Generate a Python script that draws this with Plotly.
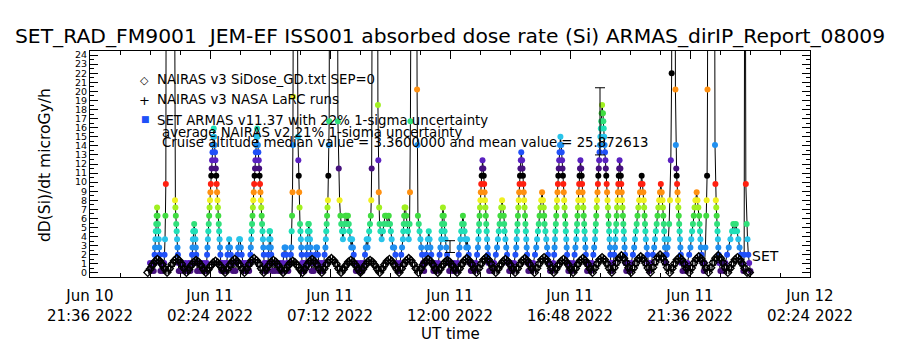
import pandas as pd
import plotly.graph_objects as go

# ---------------- data (minutes after 2022-06-11 00:00 UT) ----------------
DAY0 = pd.Timestamp("2022-06-11 00:00:00")

armas_minutes = [
    0, 3, 6, 9, 10, 11, 12, 13, 14, 15, 16, 17, 18, 19, 20, 21, 22, 23, 24, 25,
    28, 31, 34, 35, 36, 37, 38, 39, 44, 49, 54, 58, 60, 61, 62, 63, 64, 65, 66, 67, 68, 69, 70,
    73, 77, 81, 85, 89, 93, 97, 100, 101, 102, 103, 104, 105, 106, 107, 108, 109, 110, 111, 112, 113, 116, 120, 124, 127,
    130, 133, 136, 137, 138, 139, 140, 141, 142, 143, 144, 145, 146, 147, 148, 149, 150, 151, 152, 153, 154, 155, 156, 157, 158, 159, 160, 161, 162, 163, 164, 165, 166, 167, 168, 169, 170, 171, 172,
    175, 178, 181, 184, 186, 188, 190, 192, 194, 196, 199, 202, 205, 208, 210, 212, 214, 216, 218, 220, 223, 226, 229, 232,
    236, 238, 240, 241, 242, 243, 244, 245, 246, 247, 248, 249, 250, 251, 252, 253, 254, 255, 256, 257, 258, 259, 260, 261, 262, 263, 264, 265, 266, 267, 268, 269, 270, 271, 272, 273, 274, 275, 278,
    281, 283, 284, 285, 286, 287, 288, 289, 290, 291, 292, 294, 297, 300,
    304, 308, 312, 316, 319, 321, 323, 325, 327, 329, 332,
    335, 338, 339, 340, 341, 342, 343, 344, 345, 348, 352, 355, 356, 357, 358, 359, 360, 361, 362, 363, 364, 365, 366, 368,
    371, 374, 376, 377, 378, 379, 380, 381, 383, 384, 385, 386, 387, 388, 390,
    393, 395, 397, 399, 401, 403, 405, 408, 411, 414,
    417, 419, 421, 422, 423, 424, 425, 426, 427, 428, 429, 430, 431, 436, 444, 449, 451, 453, 455, 457, 459, 461, 463, 465, 467, 469, 471, 473, 475, 477, 479, 481, 483, 485, 487, 489, 491, 494,
    498, 502, 506, 510, 513, 516, 518, 520, 522, 524, 526, 528, 530, 531, 532, 533, 536, 541, 545, 547, 548, 549, 550, 551, 553, 556, 559, 562, 564, 567, 570, 573, 576, 578, 580, 583, 586, 589, 592, 596,
    600, 603, 605, 607, 608, 609, 610, 611, 613, 615, 617, 619, 621, 623, 624, 625, 627, 631, 636, 639, 641, 642, 643, 645, 647, 649, 651, 653, 655, 658,
    661, 663, 665, 667, 669, 671, 673, 675, 677, 680,
    684, 688, 692, 695, 697, 699, 700, 701, 702, 703, 705, 706, 707, 709, 711, 713, 715, 718,
    722, 726, 730, 734, 738, 741, 743, 745, 747, 749, 751, 753, 755, 757, 759, 761, 763, 765, 767, 770,
    774, 778, 782, 785, 787, 788, 789, 790, 791, 792, 793, 794, 795, 796, 797, 798, 800, 801, 802, 803, 804, 805, 806, 807, 808, 809, 810, 811, 812, 814,
    818, 822, 826, 830, 833, 835, 837, 839, 841, 843, 845, 847, 849, 850, 851, 853, 855, 857, 859, 862,
    866, 870, 874, 877, 879, 880, 881, 882, 883, 884, 885, 886, 887, 888, 889, 890, 891, 893, 894, 895, 896, 897, 898, 899, 900, 901, 902, 903, 904, 905, 906, 908,
    912, 916, 920, 924, 927, 929, 931, 933, 935, 937, 939, 941, 943, 945, 946, 947, 949, 951, 953, 955, 957, 960,
    964, 968, 970, 971, 972, 973, 974, 975, 976, 977, 978, 979, 980, 981, 982, 983, 984, 985, 987, 988, 989, 990, 991, 992, 993, 994, 995, 996, 997, 998, 999, 1000, 1001, 1002, 1004,
    1008, 1012, 1016, 1019, 1021, 1023, 1024, 1025, 1026, 1027, 1028, 1029, 1030, 1031, 1032, 1033, 1035, 1036, 1037, 1038, 1039, 1040, 1041, 1042, 1043, 1044, 1045, 1046, 1047, 1049,
    1053, 1057, 1061, 1064, 1066, 1068, 1069, 1070, 1071, 1072, 1073, 1074, 1075, 1076, 1077, 1078, 1079, 1080, 1081, 1082, 1083, 1084, 1085, 1087, 1088, 1089, 1090, 1091, 1092, 1093, 1094, 1095, 1096, 1097, 1098, 1099, 1100, 1101, 1102, 1103, 1104, 1105, 1106, 1108,
    1112, 1114, 1116, 1117, 1118, 1119, 1120, 1121, 1122, 1123, 1124, 1125, 1126, 1127, 1129, 1130, 1131, 1132, 1133, 1134, 1135, 1136, 1137, 1138, 1139, 1140, 1141, 1143,
    1147, 1151, 1155, 1159, 1162, 1164, 1166, 1168, 1170, 1172, 1174, 1176, 1178, 1180, 1182, 1184, 1185, 1186, 1187, 1188, 1189, 1190, 1192, 1194, 1196, 1199,
    1203, 1207, 1210, 1212, 1214, 1216, 1218, 1220, 1222, 1224, 1226, 1228, 1230, 1231, 1232, 1233, 1234, 1235, 1236, 1237, 1238, 1240, 1242, 1244, 1246, 1248, 1250, 1252, 1253, 1256, 1259, 1261, 1262, 1263, 1264, 1265, 1266, 1267, 1268, 1269, 1270, 1271, 1272, 1273, 1274, 1275, 1278,
    1282, 1286, 1290, 1294, 1297, 1299, 1301, 1303, 1305, 1307, 1309, 1312, 1314, 1316, 1318, 1319, 1320, 1321, 1322, 1324, 1326, 1329,
    1331, 1333, 1335, 1336, 1337, 1338, 1339, 1343, 1348, 1353, 1356, 1357, 1358, 1359, 1360, 1361, 1362, 1363, 1364, 1365, 1366, 1369,
    1373, 1377, 1381, 1385, 1389, 1393, 1397, 1400, 1403, 1406, 1409, 1412, 1415, 1418, 1421, 1424,
    1426, 1428, 1430, 1432, 1434, 1436, 1438, 1441,
]

armas_dose = [
    1.1, 0.2, 1.1, 0.2, 1.1, 2.0, 2.8, 3.7, 4.6, 5.4, 6.3, 7.2, 6.3, 5.4, 4.6, 3.7, 2.8, 2.0, 1.1, 0.2,
    1.1, 0.2, 1.1, 2.0, 3.7, 6.3, 9.8, 40.0, 120.0, 210.0, 130.0, 45.0, 8.0, 7.2, 6.3, 5.4, 4.6, 3.7, 2.8, 2.0, 1.1, 0.2, 1.1,
    0.2, 1.1, 0.2, 1.1, 0.2, 1.1, 0.2, 1.1, 2.0, 2.8, 3.7, 4.6, 4.6, 5.4, 4.6, 4.6, 3.7, 2.8, 2.0, 1.1, 0.2, 1.1, 0.2, 1.1, 0.2,
    1.1, 0.2, 1.1, 2.0, 2.8, 3.7, 4.6, 5.4, 6.3, 7.2, 8.0, 8.9, 9.8, 10.7, 11.5, 12.4, 13.3, 14.1, 15.0, 15.9, 15.0, 14.1, 13.3, 12.4, 11.5, 10.7, 9.8, 8.9, 8.0, 7.2, 6.3, 5.4, 4.6, 3.7, 2.8, 2.0, 1.1, 0.2, 1.1,
    0.2, 1.1, 0.2, 1.1, 2.0, 2.8, 3.7, 2.8, 2.0, 1.1, 0.2, 1.1, 0.2, 1.1, 2.0, 2.8, 3.7, 3.7, 2.8, 2.0, 1.1, 0.2, 1.1, 0.2,
    1.1, 0.2, 1.1, 2.0, 2.8, 3.7, 4.6, 5.4, 6.3, 7.2, 8.0, 8.9, 9.8, 10.7, 11.5, 12.4, 13.3, 14.1, 15.0, 15.9, 15.0, 14.1, 13.3, 12.4, 11.5, 10.7, 9.8, 8.9, 8.0, 7.2, 6.3, 5.4, 4.6, 3.7, 2.8, 2.0, 1.1, 0.2, 1.1,
    0.2, 1.1, 2.0, 2.8, 3.7, 4.6, 4.6, 3.7, 2.8, 2.0, 1.1, 0.2, 1.1, 0.2,
    1.1, 0.2, 1.1, 0.2, 1.1, 2.0, 2.8, 2.8, 2.0, 1.1, 0.2,
    1.1, 2.0, 2.8, 4.6, 6.3, 8.9, 14.1, 19.4, 35.0, 120.0, 60.0, 15.0, 12.4, 10.7, 8.9, 7.2, 5.4, 4.6, 3.7, 2.8, 2.0, 1.1, 0.2, 1.1,
    0.2, 1.1, 2.0, 2.8, 3.7, 4.6, 5.4, 5.4, 4.6, 3.7, 2.8, 2.0, 1.1, 0.2, 1.1,
    0.2, 1.1, 2.0, 2.8, 2.8, 2.0, 1.1, 0.2, 1.1, 0.2,
    1.1, 2.0, 2.8, 3.7, 4.6, 5.4, 6.3, 7.2, 8.0, 10.7, 14.1, 16.7, 40.0, 150.0, 200.0, 60.0, 16.7, 11.5, 8.0, 6.3, 5.4, 4.6, 3.7, 4.6, 5.4, 6.3, 6.3, 5.4, 6.3, 5.4, 4.6, 3.7, 2.8, 3.7, 2.8, 2.0, 1.1, 0.2,
    1.1, 0.2, 1.1, 0.2, 1.1, 2.0, 2.8, 3.7, 2.8, 3.7, 4.6, 5.4, 6.3, 8.0, 11.5, 30.0, 110.0, 190.0, 70.0, 18.5, 12.4, 8.9, 7.2, 5.4, 4.6, 3.7, 4.6, 5.4, 6.3, 6.3, 5.4, 6.3, 5.4, 4.6, 3.7, 2.8, 2.8, 2.0, 1.1, 0.2,
    1.1, 2.0, 2.8, 3.7, 4.6, 5.4, 6.3, 7.2, 7.2, 6.3, 5.4, 4.6, 3.7, 5.4, 8.9, 16.7, 40.0, 150.0, 210.0, 60.0, 20.2, 14.1, 6.3, 5.4, 4.6, 3.7, 2.8, 2.0, 1.1, 0.2,
    1.1, 2.0, 2.8, 3.7, 4.6, 3.7, 2.8, 2.0, 1.1, 0.2,
    1.1, 0.2, 1.1, 2.0, 2.8, 3.7, 4.6, 5.4, 6.3, 7.2, 6.3, 5.4, 4.6, 3.7, 2.8, 2.0, 1.1, 0.2,
    1.1, 0.2, 1.1, 0.2, 1.1, 2.0, 2.8, 3.7, 4.6, 5.4, 6.3, 5.4, 4.6, 3.7, 2.8, 3.7, 2.8, 2.0, 1.1, 0.2,
    1.1, 0.2, 1.1, 2.0, 2.8, 3.7, 4.6, 5.4, 6.3, 7.2, 8.0, 8.9, 9.8, 10.7, 11.5, 12.4, 11.5, 10.7, 9.8, 8.9, 8.0, 7.2, 6.3, 5.4, 4.6, 3.7, 2.8, 2.0, 1.1, 0.2,
    1.1, 0.2, 1.1, 2.0, 2.8, 3.7, 4.6, 5.4, 6.3, 7.2, 8.0, 7.2, 6.3, 5.4, 4.6, 3.7, 2.8, 2.0, 1.1, 0.2,
    1.1, 0.2, 1.1, 2.0, 2.8, 3.7, 4.6, 5.4, 6.3, 7.2, 8.0, 8.9, 9.8, 10.7, 11.5, 12.4, 13.3, 12.4, 11.5, 10.7, 9.8, 8.9, 8.0, 7.2, 6.3, 5.4, 4.6, 3.7, 2.8, 2.0, 1.1, 0.2,
    1.1, 0.2, 1.1, 2.0, 2.8, 3.7, 4.6, 5.4, 6.3, 7.2, 8.0, 8.9, 8.0, 7.2, 6.3, 5.4, 4.6, 3.7, 2.8, 2.0, 1.1, 0.2,
    0.2, 1.1, 2.0, 2.8, 3.7, 4.6, 5.4, 6.3, 7.2, 8.0, 8.9, 9.8, 10.7, 11.5, 12.4, 13.3, 14.1, 15.0, 14.1, 13.3, 12.4, 11.5, 10.7, 9.8, 8.9, 8.0, 7.2, 6.3, 5.4, 4.6, 3.7, 2.8, 2.0, 1.1, 0.2,
    1.1, 0.2, 1.1, 2.0, 2.8, 3.7, 4.6, 5.4, 6.3, 7.2, 8.0, 8.9, 9.8, 10.7, 11.5, 12.4, 11.5, 10.7, 9.8, 8.9, 8.0, 7.2, 6.3, 5.4, 4.6, 3.7, 2.8, 2.0, 1.1, 0.2,
    1.1, 0.2, 1.1, 2.0, 2.8, 3.7, 4.6, 5.4, 6.3, 7.2, 8.0, 8.9, 9.8, 10.7, 11.5, 12.4, 13.3, 14.1, 15.0, 15.9, 16.7, 17.6, 18.5, 17.6, 16.7, 15.9, 15.0, 14.1, 13.3, 12.4, 11.5, 10.7, 9.8, 8.9, 8.0, 7.2, 6.3, 5.4, 4.6, 3.7, 2.8, 2.0, 1.1, 0.2,
    1.1, 2.0, 2.8, 3.7, 4.6, 5.4, 6.3, 7.2, 8.0, 8.9, 9.8, 10.7, 11.5, 12.4, 11.5, 10.7, 9.8, 8.9, 8.0, 7.2, 6.3, 5.4, 4.6, 3.7, 2.8, 2.0, 1.1, 0.2,
    1.1, 0.2, 1.1, 2.0, 2.8, 3.7, 4.6, 5.4, 6.3, 7.2, 8.0, 8.9, 9.8, 10.7, 9.8, 8.9, 8.0, 7.2, 6.3, 5.4, 4.6, 3.7, 2.8, 2.0, 1.1, 0.2,
    1.1, 2.0, 2.8, 3.7, 4.6, 5.4, 6.3, 7.2, 8.0, 8.9, 9.8, 8.9, 8.0, 7.2, 6.3, 5.4, 4.6, 3.7, 2.8, 2.0, 1.1, 2.0, 2.8, 3.7, 5.4, 8.0, 12.4, 22.0, 40.0, 160.0, 70.0, 20.2, 14.1, 11.5, 10.7, 9.8, 8.9, 8.0, 7.2, 6.3, 5.4, 4.6, 3.7, 2.8, 2.0, 1.1, 0.2,
    1.1, 0.2, 1.1, 2.0, 2.8, 3.7, 4.6, 5.4, 6.3, 7.2, 8.0, 8.9, 8.0, 7.2, 6.3, 5.4, 4.6, 3.7, 2.8, 2.0, 1.1, 0.2,
    1.1, 2.8, 6.3, 8.0, 10.7, 20.2, 45.0, 180.0, 230.0, 90.0, 14.1, 9.8, 8.0, 7.2, 6.3, 5.4, 4.6, 3.7, 2.8, 2.0, 1.1, 0.2,
    1.1, 0.2, 1.1, 2.0, 2.8, 3.7, 4.6, 5.4, 4.6, 5.4, 4.6, 3.7, 2.8, 2.0, 1.1, 0.2,
    2.0, 60.0, 9.8, 5.4, 3.7, 2.0, 1.1, 0.2,
]

# NAIRAS v3 SiDose_GD: model output every 5.8 min starting 5.4 min before 00:00 UT
nairas_gd_start_min = -5.4
nairas_gd_step_min = 5.8
nairas_gd_dose = [
    0.05, 0.42, 0.88, 1.27, 1.5, 1.3, 0.92, 0.46,
    0.06, 0.47, 0.95, 1.35, 1.6, 1.37, 0.97, 0.49,
    0.05, 0.41, 0.83, 1.18, 1.4, 1.2, 0.85, 0.43,
    0.04, 0.38, 0.77, 1.1, 1.3, 1.11, 0.79, 0.4,
    0.05, 0.44, 0.89, 1.27, 1.5, 1.29, 0.91, 0.46,
    0.05, 0.47, 0.95, 1.36, 1.6, 1.37, 0.97, 0.49,
    0.05, 0.41, 0.83, 1.19, 1.4, 1.2, 0.85, 0.43,
    0.04, 0.38, 0.77, 1.1, 1.3, 1.11, 0.79, 0.4,
    0.05, 0.44, 0.89, 1.27, 1.5, 1.28, 0.91, 0.46,
    0.05, 0.47, 0.95, 1.36, 1.6, 1.36, 0.97, 0.49,
    0.05, 0.41, 0.83, 1.19, 1.4, 1.2, 0.85, 0.43,
    0.05, 0.42, 0.84, 1.2, 1.4, 1.19, 0.84, 0.42,
    0.05, 0.45, 0.9, 1.28, 1.5, 1.27, 0.89, 0.45,
    0.05, 0.48, 0.96, 1.36, 1.6, 1.35, 0.95, 0.48,
    0.05, 0.45, 0.9, 1.28, 1.5, 1.28, 0.9, 0.44,
    0.04, 0.42, 0.84, 1.19, 1.4, 1.2, 0.85, 0.43,
    0.05, 0.48, 0.96, 1.36, 1.6, 1.37, 0.97, 0.49,
    0.05, 0.51, 1.02, 1.44, 1.7, 1.45, 1.03, 0.52,
    0.05, 0.45, 0.9, 1.27, 1.5, 1.28, 0.9, 0.45,
    0.05, 0.48, 0.96, 1.36, 1.6, 1.36, 0.96, 0.48,
    0.05, 0.51, 1.02, 1.45, 1.7, 1.44, 1.01, 0.51,
    0.05, 0.45, 0.9, 1.28, 1.5, 1.27, 0.9, 0.45,
    0.05, 0.48, 0.96, 1.36, 1.6, 1.37, 0.97, 0.48,
    0.05, 0.51, 1.02, 1.45, 1.7, 1.46, 1.03, 0.52,
    0.06, 0.57, 1.14, 1.62, 1.9, 1.61, 1.13, 0.57,
    0.06, 0.54, 1.08, 1.53, 1.8, 1.54, 1.09, 0.55,
    0.06, 0.6, 1.2, 1.7, 2.0, 1.7, 1.2, 0.6,
    0.05, 0.51, 1.02, 1.45, 1.7, 1.45, 1.02, 0.51,
    0.06, 0.54, 1.08, 1.53, 1.8, 1.53, 1.08, 0.54,
    0.06, 0.57, 1.14, 1.62, 1.9, 1.62, 1.14, 0.57,
    0.05, 0.51, 1.02, 1.45, 1.7, 1.45, 1.02, 0.51,
    0.05, 0.04,
]

# NAIRAS v3 NASA LaRC runs: every 5.8 min starting 2.5 min before 00:00 UT
nairas_larc_start_min = -2.5
nairas_larc_step_min = 5.8
nairas_larc_dose = [
    0.28, 0.66, 1.06, 1.36, 1.37, 1.08, 0.68, 0.25,
    0.31, 0.71, 1.14, 1.45, 1.46, 1.15, 0.72, 0.27,
    0.27, 0.62, 1.0, 1.28, 1.28, 1.0, 0.63, 0.24,
    0.25, 0.58, 0.93, 1.19, 1.2, 0.94, 0.58, 0.22,
    0.29, 0.67, 1.07, 1.37, 1.38, 1.08, 0.68, 0.25,
    0.31, 0.72, 1.15, 1.46, 1.47, 1.15, 0.72, 0.27,
    0.27, 0.63, 1.0, 1.28, 1.29, 1.01, 0.63, 0.24,
    0.25, 0.58, 0.93, 1.19, 1.2, 0.94, 0.58, 0.22,
    0.29, 0.67, 1.07, 1.37, 1.38, 1.08, 0.68, 0.25,
    0.31, 0.72, 1.15, 1.46, 1.47, 1.15, 0.72, 0.27,
    0.27, 0.63, 1.0, 1.28, 1.29, 1.01, 0.63, 0.24,
    0.27, 0.63, 1.01, 1.29, 1.28, 1.0, 0.63, 0.24,
    0.29, 0.68, 1.08, 1.38, 1.37, 1.07, 0.67, 0.25,
    0.31, 0.72, 1.15, 1.47, 1.46, 1.14, 0.71, 0.27,
    0.29, 0.68, 1.08, 1.38, 1.38, 1.08, 0.67, 0.25,
    0.27, 0.63, 1.0, 1.29, 1.29, 1.01, 0.63, 0.24,
    0.31, 0.72, 1.15, 1.47, 1.47, 1.15, 0.72, 0.27,
    0.33, 0.77, 1.22, 1.56, 1.56, 1.23, 0.77, 0.29,
    0.29, 0.68, 1.08, 1.38, 1.38, 1.08, 0.68, 0.25,
    0.31, 0.72, 1.15, 1.47, 1.47, 1.15, 0.72, 0.27,
    0.33, 0.77, 1.22, 1.56, 1.56, 1.22, 0.76, 0.29,
    0.29, 0.68, 1.08, 1.38, 1.37, 1.07, 0.67, 0.25,
    0.31, 0.72, 1.15, 1.47, 1.47, 1.15, 0.72, 0.27,
    0.33, 0.77, 1.22, 1.56, 1.57, 1.23, 0.77, 0.29,
    0.37, 0.86, 1.37, 1.75, 1.74, 1.36, 0.85, 0.32,
    0.35, 0.81, 1.3, 1.66, 1.66, 1.3, 0.81, 0.3,
    0.39, 0.9, 1.44, 1.84, 1.84, 1.44, 0.9, 0.34,
    0.33, 0.77, 1.22, 1.56, 1.56, 1.22, 0.77, 0.29,
    0.35, 0.81, 1.3, 1.66, 1.66, 1.3, 0.81, 0.3,
    0.37, 0.86, 1.37, 1.75, 1.75, 1.37, 0.86, 0.32,
    0.33, 0.77, 1.22, 1.56, 1.56, 1.22, 0.77, 0.29,
]

# 1-sigma uncertainty bars
err_minutes = [720, 1080]
err_dose = [2.9, 16.7]
err_sigma = [0.65, 3.7]

x_range = ["2022-06-10 21:36", "2022-06-12 02:24"]
x_tick_times = ["2022-06-10 21:36", "2022-06-11 02:24", "2022-06-11 07:12", "2022-06-11 12:00",
                "2022-06-11 16:48", "2022-06-11 21:36", "2022-06-12 02:24"]
x_tick_text = ["Jun 10<br>21:36 2022", "Jun 11<br>02:24 2022", "Jun 11<br>07:12 2022", "Jun 11<br>12:00 2022",
               "Jun 11<br>16:48 2022", "Jun 11<br>21:36 2022", "Jun 12<br>02:24 2022"]
y_tick_vals = list(range(0, 25))
y_tick_text = [str(v) for v in y_tick_vals]

level_colors = ["#46107e", "#5a20c0", "#2050f8", "#2090f0", "#28c4ea", "#20e0b8", "#30e07a",
                "#40dc40", "#a0f020", "#f0f020", "#ff9010", "#ff2010", "#000000"]

# ---------------- build ----------------
assert len(armas_minutes) == len(armas_dose), (len(armas_minutes), len(armas_dose))

t_armas = DAY0 + pd.to_timedelta(armas_minutes, unit="min")
t_gd = DAY0 + pd.to_timedelta([nairas_gd_start_min + nairas_gd_step_min * i for i in range(len(nairas_gd_dose))], unit="min")
t_larc = DAY0 + pd.to_timedelta([nairas_larc_start_min + nairas_larc_step_min * i for i in range(len(nairas_larc_dose))], unit="min")
t_err = DAY0 + pd.to_timedelta(err_minutes, unit="min")

armas_colors = [level_colors[int(round((v - 0.2) / 0.869)) % len(level_colors)] for v in armas_dose]

FONT = "DejaVu Sans"
fig = go.Figure()
fig.add_trace(go.Scatter(x=t_armas, y=armas_dose, mode="lines+markers",
                         line=dict(color="black", width=1),
                         marker=dict(size=6, color=armas_colors, line=dict(width=0)),
                         name="SET ARMAS"))
fig.add_trace(go.Scatter(x=t_gd, y=nairas_gd_dose, mode="markers",
                         marker=dict(symbol="diamond-open", size=6, color="black", line=dict(width=1.3, color="black")),
                         name="NAIRAS v3 SiDose_GD"))
fig.add_trace(go.Scatter(x=t_larc, y=nairas_larc_dose, mode="markers",
                         marker=dict(symbol="cross-thin-open", size=6, color="black", line=dict(width=1.3, color="black")),
                         name="NAIRAS v3 NASA LaRC"))
fig.add_trace(go.Scatter(x=t_err, y=err_dose, mode="markers",
                         marker=dict(size=1, color="rgba(0,0,0,0)"),
                         error_y=dict(type="data", array=err_sigma, visible=True, color="black", thickness=1, width=5),
                         name="uncertainty"))

L, R, T, B = 90, 810, 51, 277
def px(xp):
    return (xp - L) / (R - L)
def py(yp):
    return (B - yp) / (B - T)

ann = []
def text(x, y, s, size=13, xanchor="left", color="black", angle=0):
    ann.append(dict(x=px(x), y=py(y), xref="paper", yref="paper", text=s, showarrow=False,
                    xanchor=xanchor, yanchor="middle", textangle=angle,
                    font=dict(family=FONT, size=size, color=color)))

text(450, 36, "SET_RAD_FM9001\u00a0\u00a0JEM-EF ISS001 absorbed dose rate (Si) ARMAS_dirIP_Report_08009", size=20.3, xanchor="center")
text(450, 334, "UT time", size=15, xanchor="center")
text(45, 165, "dD(Si)/dt microGy/h", size=15.5, xanchor="center", angle=-90)
text(144, 80, "\u25c7", size=11, xanchor="center")
text(144, 100, "+", size=13, xanchor="center")
text(145, 119, "\u25a0", size=9, xanchor="center", color="#2050f8")
text(155, 79, "NAIRAS v3 SiDose_GD.txt SEP=0", size=13.3)
text(155, 99, "NAIRAS v3 NASA LaRC runs", size=13.3)
text(155, 120, "SET ARMAS v11.37 with 22% 1-sigma uncertainty", size=13.3)
text(160, 132, "average NAIRAS v2 21% 1-sigma uncertainty", size=13.3)
text(160, 142, "Cruise altitude median value = 3.3600000 and mean value = 25.872613", size=13.3)
text(750, 256, "SET", size=14)

fig.update_layout(width=900, height=350, margin=dict(l=L, r=900 - R, t=T, b=350 - B),
                  paper_bgcolor="white", plot_bgcolor="white", showlegend=False,
                  font=dict(family=FONT, color="black"), annotations=ann)
fig.update_xaxes(type="date", range=x_range, tickmode="array", tickvals=x_tick_times, ticktext=x_tick_text,
                 ticks="inside", ticklen=8, tickcolor="black", tickwidth=1,
                 showline=True, linecolor="black", linewidth=1, mirror="ticks",
                 showgrid=False, zeroline=False, tickfont=dict(family=FONT, size=15),
                 ticklabelstandoff=5,
                 minor=dict(tickmode="linear", tick0="2022-06-10 21:36", dtick=4320000,
                            ticks="inside", ticklen=4, tickcolor="black", showgrid=False))
fig.update_yaxes(range=[-0.45, 24.45], tickmode="array", tickvals=y_tick_vals, ticktext=y_tick_text,
                 ticks="inside", ticklen=8, tickcolor="black", tickwidth=1,
                 showline=True, linecolor="black", linewidth=1, mirror="ticks",
                 showgrid=False, zeroline=False, tickfont=dict(family=FONT, size=9.5),
                 minor=dict(tickmode="linear", tick0=0.5, dtick=1, ticks="inside", ticklen=4,
                            tickcolor="black", showgrid=False))

fig.write_html("out.html")
